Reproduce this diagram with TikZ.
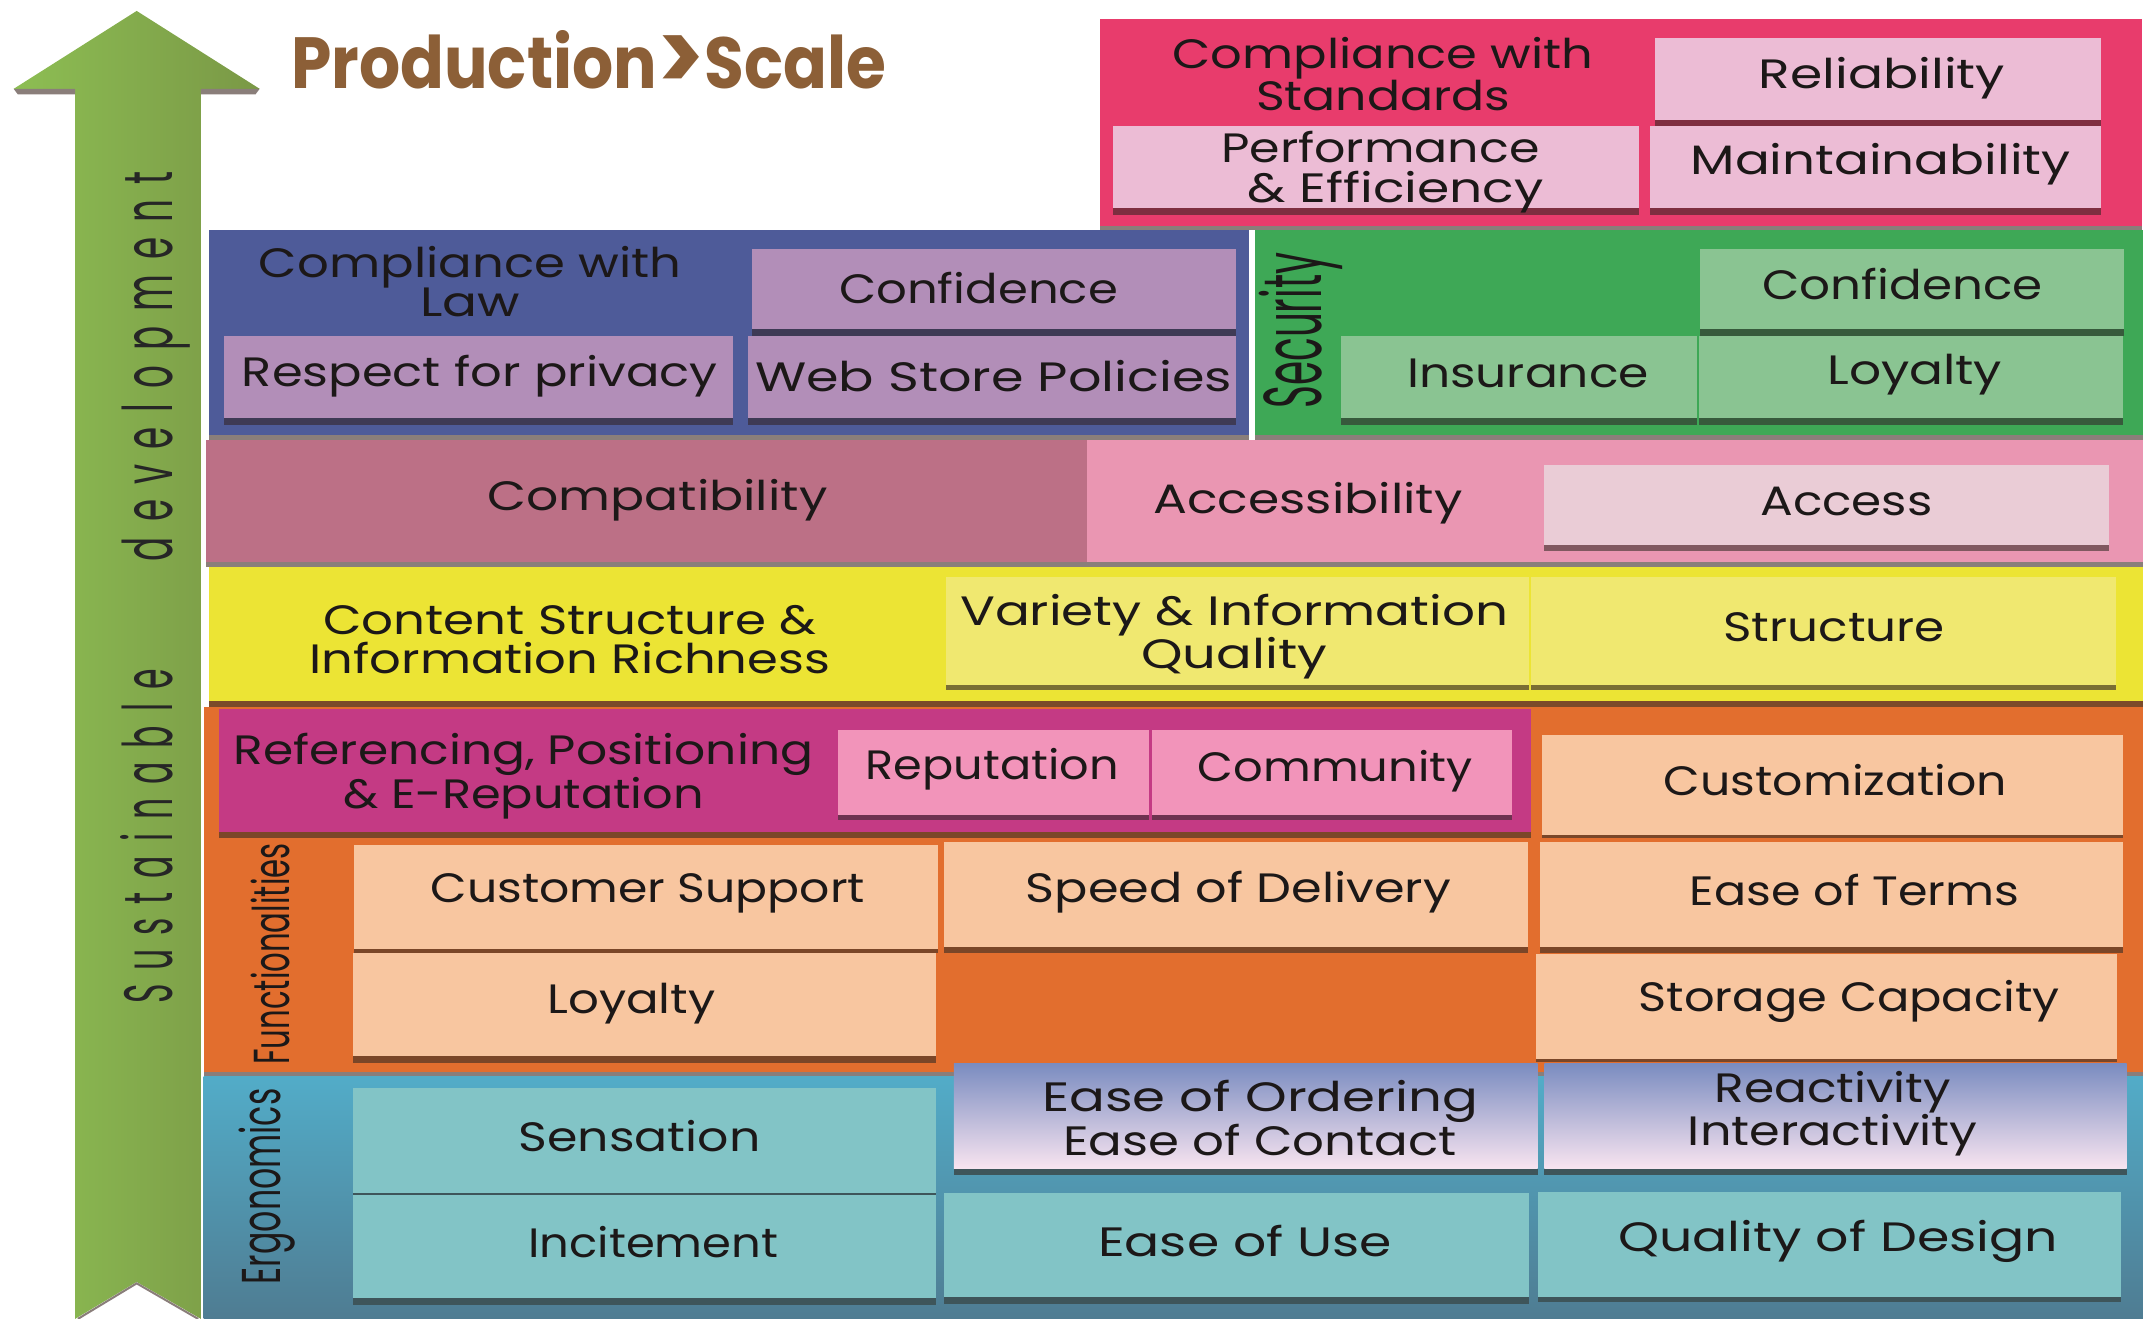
\documentclass[tikz,border=0pt]{standalone}
\usepackage{fontspec}
\usepackage{graphicx}
\setmainfont{Poppins}
\usetikzlibrary{fit}
\definecolor{cRed}{RGB}{232,60,108}
\definecolor{cPinkL}{RGB}{236,188,213}
\definecolor{sRed}{RGB}{126,46,64}
\definecolor{cBlue}{RGB}{78,91,153}
\definecolor{cPurp}{RGB}{178,142,184}
\definecolor{sPurp}{RGB}{62,58,85}
\definecolor{cGreen}{RGB}{62,168,86}
\definecolor{cGreenL}{RGB}{138,196,146}
\definecolor{sGreen}{RGB}{55,90,60}
\definecolor{cCompat}{RGB}{188,112,134}
\definecolor{cAccess}{RGB}{234,150,178}
\definecolor{cAccBox}{RGB}{234,204,214}
\definecolor{sAcc}{RGB}{128,88,96}
\definecolor{cYellow}{RGB}{236,228,52}
\definecolor{cYelBox}{RGB}{240,232,112}
\definecolor{sYel}{RGB}{122,110,52}
\definecolor{cOrange}{RGB}{226,110,46}
\definecolor{cMag}{RGB}{196,58,132}
\definecolor{cMagBox}{RGB}{242,148,186}
\definecolor{sMag}{RGB}{110,50,80}
\definecolor{cPeach}{RGB}{248,198,160}
\definecolor{sPeach}{RGB}{122,70,40}
\definecolor{cTealTop}{RGB}{82,172,200}
\definecolor{cTealBot}{RGB}{79,124,146}
\definecolor{cTealBox}{RGB}{130,196,198}
\definecolor{sTeal}{RGB}{62,85,90}
\definecolor{cGradTop}{RGB}{122,140,192}
\definecolor{cGradBot}{RGB}{248,228,240}
\definecolor{cTitle}{RGB}{140,95,55}
\definecolor{cStrip}{RGB}{138,126,122}
\definecolor{cBrownStrip}{RGB}{122,74,42}
\definecolor{cArrowL}{RGB}{141,190,83}
\definecolor{cArrowR}{RGB}{122,152,70}
\definecolor{cTxt}{RGB}{28,24,24}

\newcommand\lblfont{\fontsize{30}{29}\selectfont}
\newcommand\tw[2]{\resizebox{#1pt}{\height}{#2}}
\newcommand\shd[3]{\fill[#2] (#1.south west) rectangle ([yshift=-#3pt]#1.south east);}
\newcommand\lsp{\hspace{0.42em}}

\begin{document}
\begin{tikzpicture}[x=1pt,y=-1pt,
  tile/.style={fill=#1, inner sep=0pt, outer sep=0pt},
  lbl/.style={font=\lblfont, text=cTxt, align=center, inner sep=0pt},
  rot/.style={rotate=90, text=cTxt, inner sep=0pt, anchor=base}]
\useasboundingbox (0,0) rectangle (1568,965);

% arrow
\shade[left color=cArrowL, right color=cArrowR] (55,965) -- (55,65) -- (10,65) -- (100,8) -- (190,65) -- (147,65) -- (147,965) -- (100,938) -- cycle;
\fill[cStrip] (10,65) -- (55,65) -- (55,69) -- (13,69) -- cycle;
\fill[cStrip] (147,65) -- (190,65) -- (187,69) -- (147,69) -- cycle;
\draw[cStrip, line width=1.5pt] (57,965) -- (100,939) -- (145,965);
\node[rot, font=\fontsize{50}{50}\selectfont, text=black!85] (sus) at (126,612) {\tw{245}{S\lsp u\lsp s\lsp t\lsp a\lsp i\lsp n\lsp a\lsp b\lsp l\lsp e}};
\node[rot, font=\fontsize{50}{50}\selectfont, text=black!85] (dev) at (126,268) {\tw{285}{d\lsp e\lsp v\lsp e\lsp l\lsp o\lsp p\lsp m\lsp e\lsp n\lsp t}};

% title
\node[anchor=base west, inner sep=0pt, text=cTitle, font=\fontsize{53}{53}\selectfont\bfseries] (title) at (213,65) {\tw{435}{Production\raisebox{-2pt}{\scalebox{1.35}{>}}Scale}};

% red block
\node[tile=cRed, fit={(805,14) (1567,165)}] (redblk) {};
\fill[cStrip] (redblk.south west) rectangle ([yshift=-3pt]redblk.south east);
\node[lbl] (cstd) at (1012,54) {\tw{308}{Compliance with}\\\tw{186}{Standards}};
\node[tile=cPinkL, fit={(1211,28) (1537,88)}] (reli) {};
\shd{reli}{sRed}{4}
\node[lbl] (reliT) at (1377,57) {\tw{180}{Reliability}};
\node[tile=cPinkL, fit={(814,92) (1199,152)}] (perf) {};
\shd{perf}{sRed}{5}
\node[lbl] (perfT) at (1010,126) {\tw{233}{Performance}\\\hspace*{22pt}\tw{217}{\& Efficiency}};
\node[tile=cPinkL, fit={(1207,92) (1537,152)}] (maint) {};
\shd{maint}{sRed}{5}
\node[lbl] (maintT) at (1376,120) {\tw{278}{Maintainability}};

% blue block
\node[tile=cBlue, fit={(153,168) (914,318)}] (blueblk) {};
\fill[cStrip] (blueblk.south west) rectangle ([yshift=-4pt]blueblk.south east);
\node[lbl] (claw) at (344,206) {\tw{309}{Compliance with}\\\tw{73}{Law}};
\node[tile=cPurp, fit={(550,182) (904,241)}] (conf1) {};
\shd{conf1}{sPurp}{5}
\node[lbl] (conf1T) at (716,211) {\tw{204}{Confidence}};
\node[tile=cPurp, fit={(164,246) (536,306)}] (resp) {};
\shd{resp}{sPurp}{5}
\node[lbl] (respT) at (351,275) {\tw{348}{Respect for privacy}};
\node[tile=cPurp, fit={(547,246) (904,306)}] (webs) {};
\shd{webs}{sPurp}{5}
\node[lbl] (websT) at (727,275) {\tw{349}{Web Store Policies}};

% green block
\node[tile=cGreen, fit={(918,168) (1568,318)}] (greenblk) {};
\fill[cStrip] (greenblk.south west) rectangle ([yshift=-4pt]greenblk.south east);
\node[rot, font=\fontsize{60}{60}\selectfont] (secu) at (967,242) {\tw{114}{Security}};
\node[tile=cGreenL, fit={(1244,182) (1554,241)}] (conf2) {};
\shd{conf2}{sGreen}{5}
\node[lbl] (conf2T) at (1392,208) {\tw{205}{Confidence}};
\node[tile=cGreenL, fit={(981,246) (1242,306)}] (insu) {};
\shd{insu}{sGreen}{5}
\node[lbl] (insuT) at (1118,273) {\tw{177}{Insurance}};
\node[tile=cGreenL, fit={(1243,246) (1553,306)}] (loy1) {};
\shd{loy1}{sGreen}{5}
\node[lbl] (loy1T) at (1401,274) {\tw{128}{Loyalty}};

% compatibility row
\node[tile=cCompat, fit={(151,322) (795,411)}] (compat) {};
\node[lbl] (compatT) at (481,366) {\tw{249}{Compatibility}};
\node[tile=cAccess, fit={(795,322) (1568,411)}] (accblk) {};
\fill[cStrip] (compat.south west) rectangle ([yshift=-4pt]accblk.south east);
\node[lbl] (accl) at (957,368) {\tw{226}{Accessibility}};
\node[tile=cAccBox, fit={(1130,340) (1543,399)}] (access) {};
\shd{access}{sAcc}{4}
\node[lbl] (accessT) at (1351,367) {\tw{126}{Access}};

% yellow row
\node[tile=cYellow, fit={(153,415) (1568,513)}] (yelblk) {};
\fill[cBrownStrip] (yelblk.south west) rectangle ([yshift=-4pt]yelblk.south east);
\node[lbl] (csir) at (417,468) {\tw{361}{Content Structure \&}\\\tw{381}{Information Richness}};
\node[tile=cYelBox, fit={(692,422) (1119,501)}] (varq) {};
\shd{varq}{sYel}{4}
\node[lbl] (varqT) at (903,466) {\tw{401}{Variety \& Information}\\\tw{136}{Quality}};
\node[tile=cYelBox, fit={(1120,422) (1548,501)}] (struc) {};
\shd{struc}{sYel}{4}
\node[lbl] (strucT) at (1342,459) {\tw{162}{Structure}};

% orange block
\node[tile=cOrange, fit={(149,517) (1568,784)}] (orblk) {};
\fill[cStrip] (orblk.south west) rectangle ([yshift=-4pt]orblk.south east);
\node[tile=cMag, fit={(160,519) (1120,609)}] (magblk) {};
\shd{magblk}{sPeach}{4}
\node[lbl] (refp) at (383,568) {\tw{424}{Referencing, Positioning}\\\tw{264}{\& E-Reputation}};
\node[tile=cMagBox, fit={(613,534) (841,596)}] (repu) {};
\shd{repu}{sMag}{4}
\node[lbl] (repuT) at (726,563) {\tw{185}{Reputation}};
\node[tile=cMagBox, fit={(843,534) (1106,596)}] (comm) {};
\shd{comm}{sMag}{4}
\node[lbl] (commT) at (977,564) {\tw{201}{Community}};
\node[tile=cPeach, fit={(1128,538) (1553,611)}] (custz) {};
\shd{custz}{sPeach}{2}
\node[lbl] (custzT) at (1343,571) {\tw{251}{Customization}};
\node[tile=cPeach, fit={(1127,616) (1553,693)}] (eterm) {};
\shd{eterm}{sPeach}{4}
\node[lbl] (etermT) at (1357,651) {\tw{241}{Ease of Terms}};
\node[tile=cPeach, fit={(1124,698) (1549,775)}] (stor) {};
\shd{stor}{sPeach}{2}
\node[lbl] (storT) at (1353,733) {\tw{308}{Storage Capacity}};
\node[tile=cPeach, fit={(691,616) (1118,693)}] (speed) {};
\shd{speed}{sPeach}{4}
\node[lbl] (speedT) at (906,653) {\tw{311}{Speed of Delivery}};
\node[tile=cPeach, fit={(259,618) (686,694)}] (csup) {};
\shd{csup}{sPeach}{3}
\node[lbl] (csupT) at (474,654) {\tw{318}{Customer Support}};
\node[tile=cPeach, fit={(258,697) (685,773)}] (loy2) {};
\shd{loy2}{sPeach}{5}
\node[lbl] (loy2T) at (462,734) {\tw{123}{Loyalty}};
\node[rot, font=\fontsize{37}{37}\selectfont] (func) at (212,698) {\tw{162}{Functionalities}};

% teal block
\node[fit={(149,788) (1568,965)}, inner sep=0pt, outer sep=0pt, top color=cTealTop, bottom color=cTealBot] (tealblk) {};
\node[tile=cTealBox, fit={(258,796) (685,873)}] (sens) {};
\shd{sens}{sTeal}{1}
\node[lbl] (sensT) at (468,831) {\tw{177}{Sensation}};
\node[tile=cTealBox, fit={(258,874) (685,950)}] (incit) {};
\shd{incit}{sTeal}{5}
\node[lbl] (incitT) at (478,909) {\tw{183}{Incitement}};
\node[fit={(698,778) (1125,855)}, inner sep=0pt, outer sep=0pt, top color=cGradTop, bottom color=cGradBot] (eord) {};
\shd{eord}{sTeal}{5}
\node[lbl] (eordT) at (922,818) {\tw{319}{Ease of Ordering}\\\tw{288}{Ease of Contact}};
\node[fit={(1130,778) (1556,855)}, inner sep=0pt, outer sep=0pt, top color=cGradTop, bottom color=cGradBot] (react) {};
\shd{react}{sTeal}{5}
\node[lbl] (reactT) at (1341,815) {\tw{173}{Reactivity}\\\tw{212}{Interactivity}};
\node[tile=cTealBox, fit={(691,873) (1119,949)}] (euse) {};
\shd{euse}{sTeal}{5}
\node[lbl] (euseT) at (911,908) {\tw{215}{Ease of Use}};
\node[tile=cTealBox, fit={(1125,872) (1552,949)}] (qdes) {};
\shd{qdes}{sTeal}{4}
\node[lbl] (qdesT) at (1345,908) {\tw{322}{Quality of Design}};
\node[rot, font=\fontsize{40}{40}\selectfont] (ergo) at (205,868) {\tw{143}{Ergonomics}};
\end{tikzpicture}
\end{document}
